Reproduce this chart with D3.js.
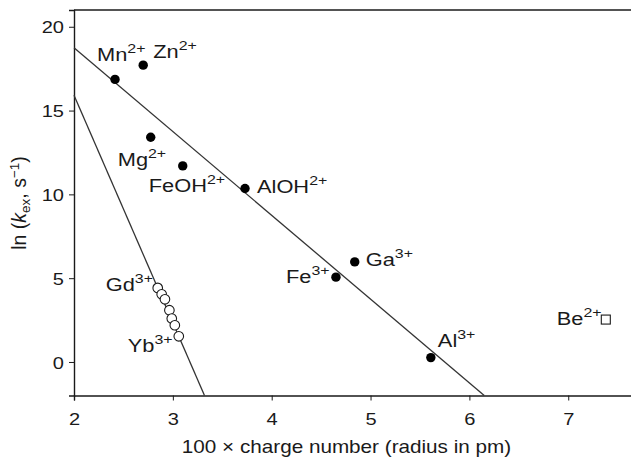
<!DOCTYPE html>
<html><head><meta charset="utf-8">
<script src="https://cdn.jsdelivr.net/npm/d3@7"></script>
<style>
html,body{margin:0;padding:0;background:#fff;}
svg{display:block;font-family:"Liberation Sans",Arial,Helvetica,sans-serif;}
</style></head>
<body>
<svg id="c" width="631" height="459"></svg>
<script>
// ---- data ----
const filledIons = ["Mn","Zn","Mg","FeOH","AlOH","Fe","Ga","Al"];
const filledCharge = ["2+","2+","2+","2+","2+","3+","3+","3+"];
const filledX = [2.415, 2.70, 2.776, 3.10, 3.73, 4.65, 4.84, 5.61];
const filledY = [16.86, 17.71, 13.41, 11.70, 10.35, 5.06, 5.97, 0.26];
const lanthX = [2.847, 2.887, 2.920, 2.965, 2.989, 3.020, 3.060];
const lanthY = [4.42, 4.04, 3.74, 3.09, 2.59, 2.19, 1.53];
const beX = [7.38];
const beY = [2.53];
const fitMainX = [2.0, 6.15];
const fitMainY = [18.75, -2.0];
const fitLanthX = [2.0, 3.32];
const fitLanthY = [15.92, -2.0];
const xTicks = [2,3,4,5,6,7];
const yTicks = [0,5,10,15,20];

// label offsets (px) relative to markers
const labelOffsets = [[-18,-18],[10,-7],[-33,29],[-34,26],[12,4],[-50,6],[11,4],[7,-11]];

const SX = 1.18; // horizontal stretch of the original figure
const svg = d3.select("#c");
const L = 74, R = 632, T = 10, B = 395.5;
const x = d3.scaleLinear().domain([2, 7.645]).range([L, R]);
const y = d3.scaleLinear().domain([-2, 21]).range([B, T]);
const ink = "#1a1a1a";

// top frame line
svg.append("line").attr("x1", L).attr("x2", 631).attr("y1", T).attr("y2", T)
  .attr("stroke", ink).attr("stroke-width", 1.6);

// axes
const gx = svg.append("g").attr("transform", `translate(0,${B})`)
  .call(d3.axisBottom(x).tickValues(xTicks).tickSize(5).tickPadding(12).tickFormat(d3.format("d")));
const gy = svg.append("g").attr("transform", `translate(${L},0)`)
  .call(d3.axisLeft(y).tickValues(yTicks).tickSize(5).tickPadding(5).tickFormat(d3.format("d")));
[gx, gy].forEach(g => {
  g.select(".domain").attr("stroke", ink).attr("stroke-width", 1.4);
  g.selectAll(".tick line").attr("stroke", ink).attr("stroke-width", 1);
  g.selectAll(".tick text").attr("fill", ink).attr("font-size", 17)
    .attr("font-family", '"Liberation Sans",Arial,sans-serif');
});
gx.selectAll(".tick text").attr("transform", `scale(${SX},1)`);
gy.selectAll(".tick text").attr("transform", `scale(${SX},1)`).attr("x", -10 / SX).attr("dy", "0.36em");

// fit lines
const line = d3.line().x(d => x(d[0])).y(d => y(d[1]));
svg.append("path").datum(d3.zip(fitMainX, fitMainY)).attr("d", line)
  .attr("fill", "none").attr("stroke", "#333").attr("stroke-width", 1.3);
svg.append("path").datum(d3.zip(fitLanthX, fitLanthY)).attr("d", line)
  .attr("fill", "none").attr("stroke", "#333").attr("stroke-width", 1.3);

// open circles (lanthanides)
svg.selectAll("circle.lan").data(d3.zip(lanthX, lanthY)).join("circle")
  .attr("class","lan").attr("cx", d => x(d[0])).attr("cy", d => y(d[1])).attr("r", 4.8)
  .attr("fill", "#fff").attr("stroke", ink).attr("stroke-width", 1.1);

// filled circles
svg.selectAll("circle.fil").data(d3.zip(filledX, filledY)).join("circle")
  .attr("class","fil").attr("cx", d => x(d[0])).attr("cy", d => y(d[1])).attr("r", 4.7)
  .attr("fill", "#000");

// Be square
svg.selectAll("rect.be").data(d3.zip(beX, beY)).join("rect")
  .attr("class","be").attr("x", d => x(d[0]) - 4.5).attr("y", d => y(d[1]) - 4.5)
  .attr("width", 9).attr("height", 9).attr("fill", "#fff").attr("stroke", ink).attr("stroke-width", 1.1);

// ion label helper
function ionLabel(px, py, base, sup) {
  const t = svg.append("text").attr("transform", `translate(${px},${py}) scale(${SX},1)`)
    .attr("fill", ink).attr("font-size", 18.5);
  t.append("tspan").text(base);
  t.append("tspan").attr("font-size", 13.5).attr("dy", -8).text(sup);
}
filledIons.forEach((n, i) => {
  ionLabel(x(filledX[i]) + labelOffsets[i][0], y(filledY[i]) + labelOffsets[i][1], n, filledCharge[i]);
});
ionLabel(x(beX[0]) - 49, y(beY[0]) + 5, "Be", "2+");
ionLabel(x(lanthX[0]) - 52, y(lanthY[0]) + 3, "Gd", "3+");
ionLabel(x(lanthX[6]) - 51, y(lanthY[6]) + 16, "Yb", "3+");

// axis titles
svg.append("text").attr("transform", `translate(${(183+510)/2},453) scale(1.15,1)`)
  .attr("text-anchor", "middle").attr("fill", ink).attr("font-size", 18)
  .text("100 \u00d7 charge number (radius in pm)");

const yl = svg.append("text").attr("transform", `translate(26,203) rotate(-90)`)
  .attr("text-anchor", "middle").attr("fill", ink).attr("font-size", 19.5);
yl.append("tspan").text("ln (");
yl.append("tspan").attr("font-style", "italic").text("k");
yl.append("tspan").attr("font-size", 13.5).attr("dy", 4).text("ex");
yl.append("tspan").attr("dy", -4).text(", s");
yl.append("tspan").attr("font-size", 13.5).attr("dy", -7).text("\u22121");
yl.append("tspan").attr("dy", 7).text(")");
</script>
</body></html>
